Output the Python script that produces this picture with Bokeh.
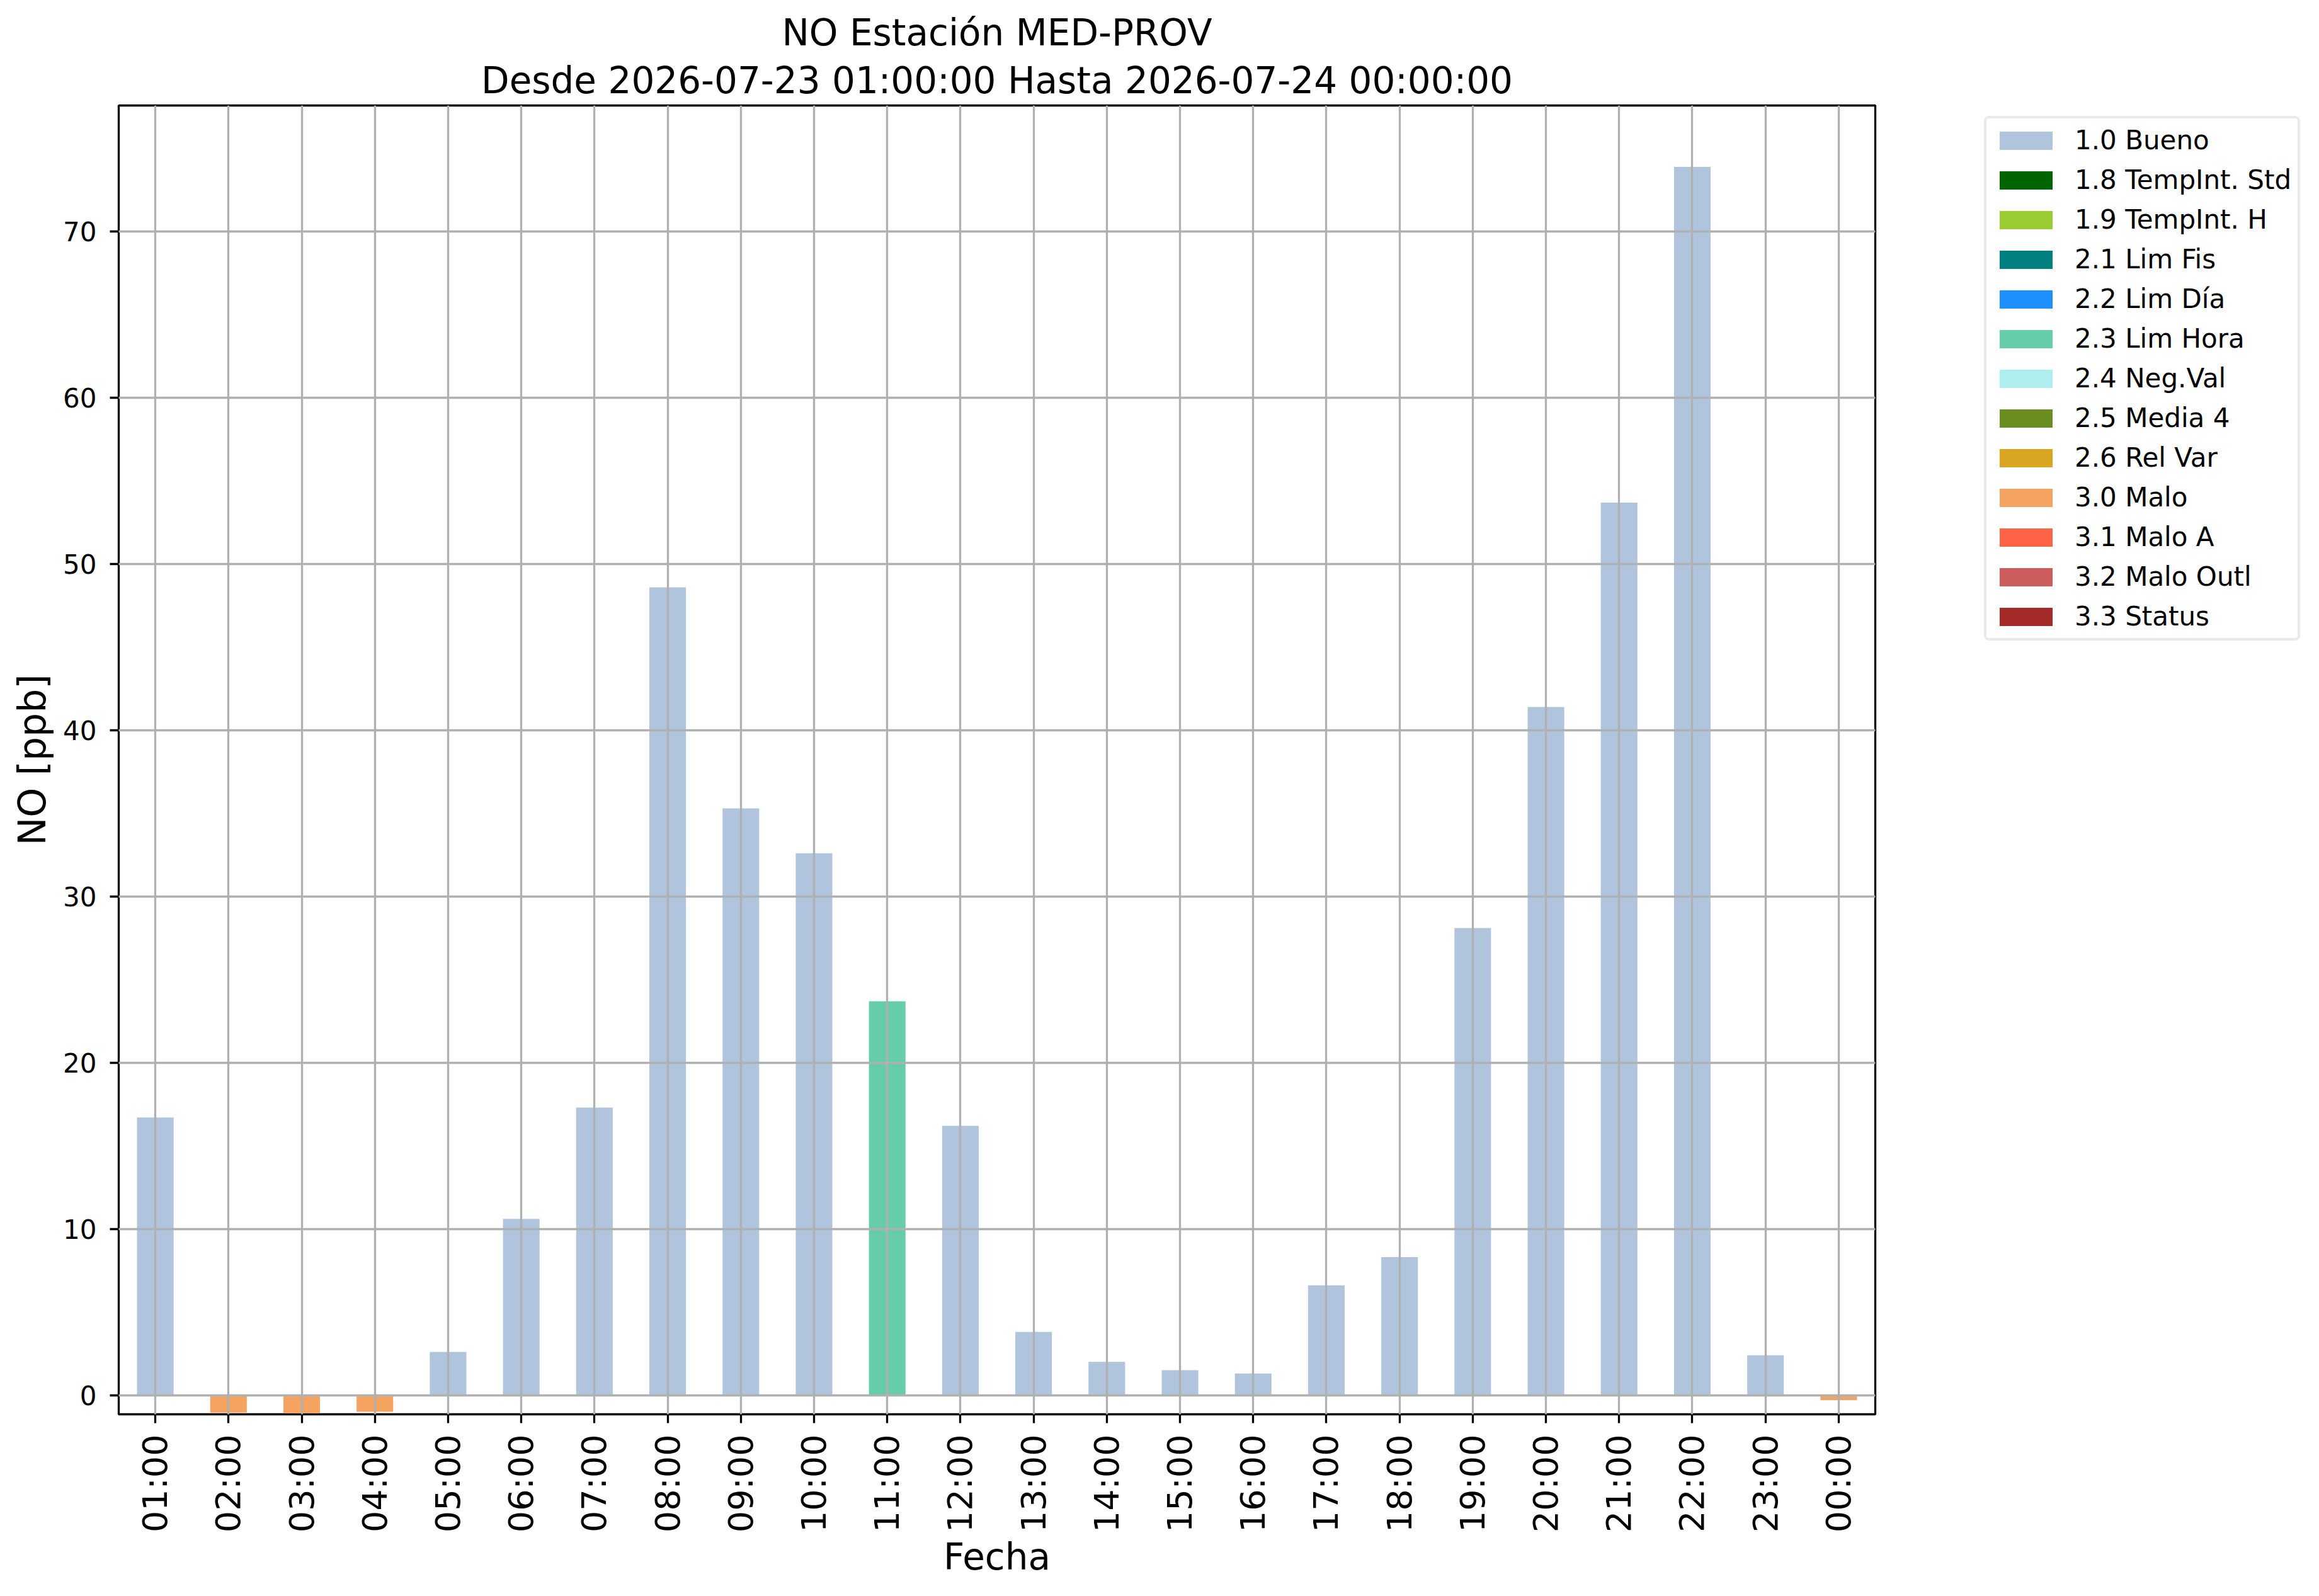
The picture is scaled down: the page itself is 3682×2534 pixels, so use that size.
import math
from bokeh.plotting import figure
from bokeh.models import (ColumnDataSource, FactorRange, Range1d, FixedTicker,
                          Legend, LegendItem, Title)
from bokeh.embed import file_html
from bokeh.resources import INLINE

# ---- data ----
hours = ["01:00", "02:00", "03:00", "04:00", "05:00", "06:00", "07:00", "08:00",
         "09:00", "10:00", "11:00", "12:00", "13:00", "14:00", "15:00", "16:00",
         "17:00", "18:00", "19:00", "20:00", "21:00", "22:00", "23:00", "00:00"]
values = [16.7, -1.05, -1.1, -1.0, 2.6, 10.6, 17.3, 48.6,
          35.3, 32.6, 23.7, 16.2, 3.8, 2.0, 1.5, 1.3,
          6.6, 8.3, 28.1, 41.4, 53.7, 73.9, 2.4, -0.3]
flags = ["1.0 Bueno", "3.0 Malo", "3.0 Malo", "3.0 Malo", "1.0 Bueno", "1.0 Bueno",
         "1.0 Bueno", "1.0 Bueno", "1.0 Bueno", "1.0 Bueno", "2.3 Lim Hora", "1.0 Bueno",
         "1.0 Bueno", "1.0 Bueno", "1.0 Bueno", "1.0 Bueno", "1.0 Bueno", "1.0 Bueno",
         "1.0 Bueno", "1.0 Bueno", "1.0 Bueno", "1.0 Bueno", "1.0 Bueno", "3.0 Malo"]
categories = ["1.0 Bueno", "1.8 TempInt. Std", "1.9 TempInt. H", "2.1 Lim Fis",
              "2.2 Lim Día", "2.3 Lim Hora", "2.4 Neg.Val", "2.5 Media 4",
              "2.6 Rel Var", "3.0 Malo", "3.1 Malo A", "3.2 Malo Outl", "3.3 Status"]
colors = ["#B0C4DE", "#006400", "#9ACD32", "#008080", "#1E90FF", "#66CDAA",
          "#AFEEEE", "#6B8E23", "#DAA520", "#F4A460", "#FF6347", "#CD5C5C", "#A52A2A"]
yticks = [0, 10, 20, 30, 40, 50, 60, 70]
title_line1 = "NO Estación MED-PROV"
title_line2 = "Desde 2026-07-23 01:00:00 Hasta 2026-07-24 00:00:00"
xlabel = "Fecha"
ylabel = "NO [ppb]"

FONT = "DejaVu Sans"
ymax = max(values) * 1.05
ymin = min(values) * 1.05

p = figure(x_range=FactorRange(factors=hours, range_padding=0),
           y_range=Range1d(ymin, ymax),
           frame_width=2789, frame_height=2078,
           min_border_left=188, min_border_right=697,
           min_border_top=167, min_border_bottom=281,
           output_backend="svg", toolbar_location=None,
           title=title_line1)

p.title.text_font = FONT
p.title.text_font_size = "58px"
p.title.text_font_style = "normal"
p.title.text_color = "black"
p.title.align = "center"
p.title.standoff = 0
t2 = Title(text=title_line2, text_font=FONT, text_font_size="58px",
           text_font_style="normal", text_color="black", align="center", standoff=12)
p.add_layout(t2, "above")

p.background_fill_color = "white"
p.border_fill_color = "white"
p.outline_line_color = "black"
p.outline_line_width = 3.3

items = []
for cat, col in zip(categories, colors):
    xs = [h for h, f in zip(hours, flags) if f == cat]
    ts = [v for v, f in zip(values, flags) if f == cat]
    if not xs:
        # category without data: zero-height placeholder so the legend shows its swatch
        xs, ts = [hours[0]], [0.0]
    src = ColumnDataSource(dict(x=xs, top=ts))
    r = p.vbar(x="x", top="top", bottom=0, width=0.5, source=src,
               fill_color=col, line_color=None)
    items.append(LegendItem(label=cat, renderers=[r]))

legend = Legend(items=items, location=(173, 1228))
legend.label_text_font = FONT
legend.label_text_font_size = "42px"
legend.label_text_color = "black"
legend.glyph_width = 105
legend.glyph_height = 36
legend.label_standoff = 25
legend.padding = 10
legend.spacing = 14
legend.margin = 0
legend.border_line_color = "#d6d6d6"
legend.border_line_width = 4
legend.background_fill_color = "white"
legend.background_fill_alpha = 1.0
try:
    legend.border_radius = 8
except Exception:
    pass
p.add_layout(legend, "right")

for g in (p.xgrid, p.ygrid):
    g.grid_line_color = "#b0b0b0"
    g.grid_line_width = 3.3
    g.level = "guide"

p.yaxis.ticker = FixedTicker(ticks=yticks)
for ax in (p.xaxis, p.yaxis):
    ax.axis_line_color = None
    ax.major_tick_line_color = "black"
    ax.major_tick_line_width = 3.3
    ax.major_tick_out = 14
    ax.major_tick_in = 0
    ax.minor_tick_line_color = None
    ax.major_label_text_font = FONT
    ax.axis_label_text_font = FONT
    ax.axis_label_text_font_style = "normal"
    ax.axis_label_text_font_size = "58px"
    ax.major_label_text_color = "black"
    ax.axis_label_text_color = "black"

p.yaxis.major_label_text_font_size = "42px"
p.yaxis.major_label_standoff = 21
p.yaxis.axis_label = ylabel
p.yaxis.axis_label_text_font_size = "60px"
p.yaxis.axis_label_standoff = 11

p.xaxis.major_label_text_font_size = "54px"
p.xaxis.major_label_orientation = math.pi / 2
p.xaxis.major_label_standoff = 18
p.xaxis.axis_label = xlabel
p.xaxis.axis_label_standoff = 2
p.xaxis.group_text_font_size = "0px"

open("out.html", "w").write(file_html(p, INLINE))
